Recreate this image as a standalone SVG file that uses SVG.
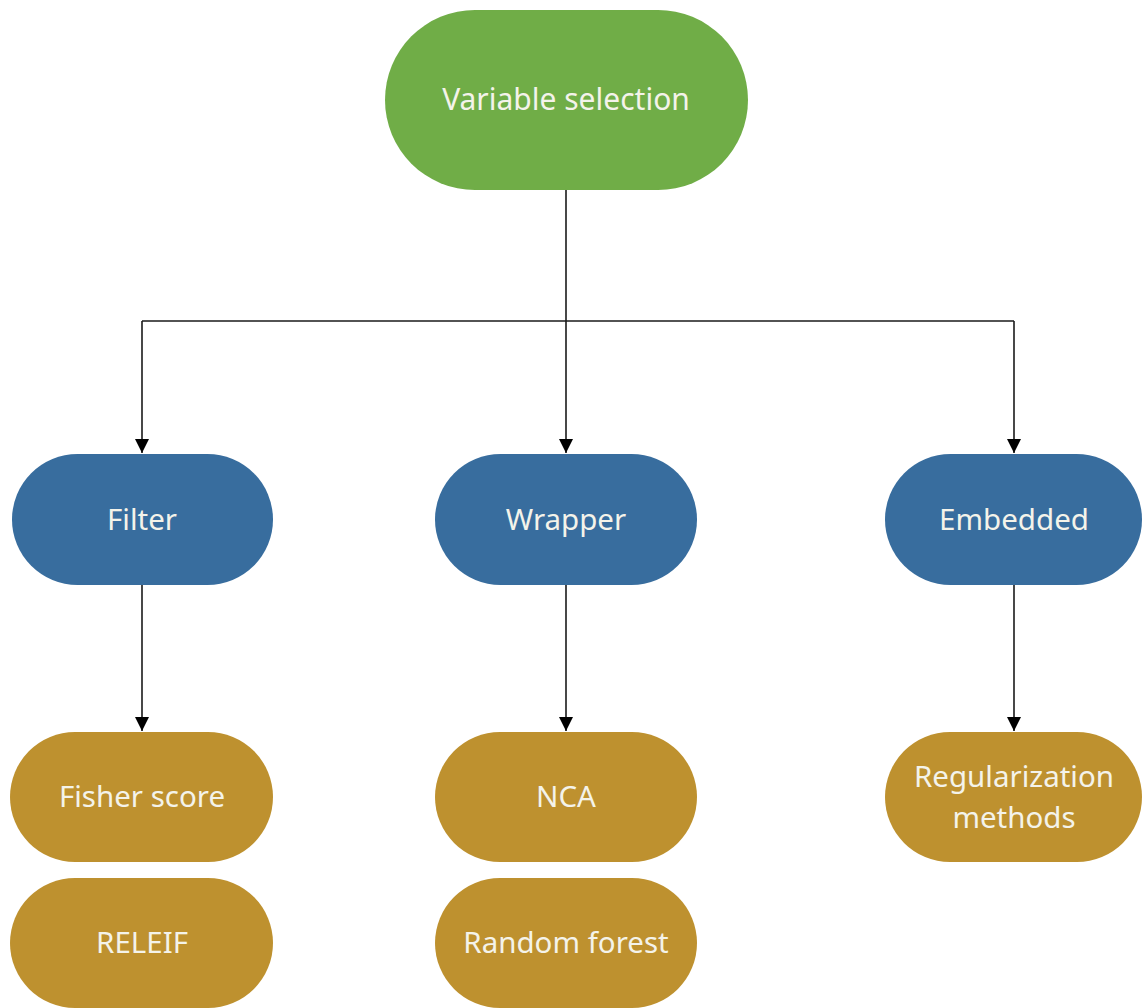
<svg xmlns="http://www.w3.org/2000/svg" width="1144" height="1008" viewBox="0 0 1144 1008">
<style>
.lbl{font-family:"Noto Sans","Liberation Sans",sans-serif;font-size:29.5px;fill:#F4F3EA;text-anchor:middle}
.big{font-size:30px}
.green{fill:#70AD47}
.blue{fill:#386D9E}
.gold{fill:#BE912F}
.conn{fill:none;stroke:#1a1a1a;stroke-width:1.6}
</style>
<defs>
<marker id="ah" viewBox="0 0 14 16" refX="14" refY="8" markerWidth="14" markerHeight="16" markerUnits="userSpaceOnUse" orient="auto">
<path d="M0,1 L14,8 L0,15 Z" fill="#000"/>
</marker>
</defs>
<rect width="1144" height="1008" fill="#fff"/>
<g id="connectors">
<path class="conn" d="M566,190 V321"/>
<path class="conn" d="M142,321 H1014"/>
<path class="conn" d="M142,321 V453" marker-end="url(#ah)"/>
<path class="conn" d="M566,321 V453" marker-end="url(#ah)"/>
<path class="conn" d="M1014,321 V453" marker-end="url(#ah)"/>
<path class="conn" d="M142,585 V731" marker-end="url(#ah)"/>
<path class="conn" d="M566,585 V731" marker-end="url(#ah)"/>
<path class="conn" d="M1014,585 V731" marker-end="url(#ah)"/>
</g>
<g id="variable-selection">
<rect class="green" x="385" y="10" width="363" height="180" rx="90"/>
<text class="lbl big" x="566" y="110">Variable selection</text>
</g>
<g id="filter">
<rect class="blue" x="12" y="454" width="261" height="131" rx="65.5"/>
<text class="lbl" x="142" y="530">Filter</text>
</g>
<g id="wrapper">
<rect class="blue" x="435" y="454" width="262" height="131" rx="65.5"/>
<text class="lbl" x="566" y="530">Wrapper</text>
</g>
<g id="embedded">
<rect class="blue" x="885" y="454" width="257" height="131" rx="65.5"/>
<text class="lbl" x="1014" y="530">Embedded</text>
</g>
<g id="fisher-score">
<rect class="gold" x="10" y="732" width="263" height="130" rx="65"/>
<text class="lbl" x="142" y="807">Fisher score</text>
</g>
<g id="releif">
<rect class="gold" x="10" y="878" width="263" height="130" rx="65"/>
<text class="lbl" x="142" y="953">RELEIF</text>
</g>
<g id="nca">
<rect class="gold" x="435" y="732" width="262" height="130" rx="65"/>
<text class="lbl" x="566" y="807">NCA</text>
</g>
<g id="random-forest">
<rect class="gold" x="435" y="878" width="262" height="130" rx="65"/>
<text class="lbl" x="566" y="953">Random forest</text>
</g>
<g id="regularization-methods">
<rect class="gold" x="885" y="732" width="257" height="130" rx="65"/>
<text class="lbl" x="1014" y="787">Regularization</text>
<text class="lbl" x="1014" y="828">methods</text>
</g>
</svg>
